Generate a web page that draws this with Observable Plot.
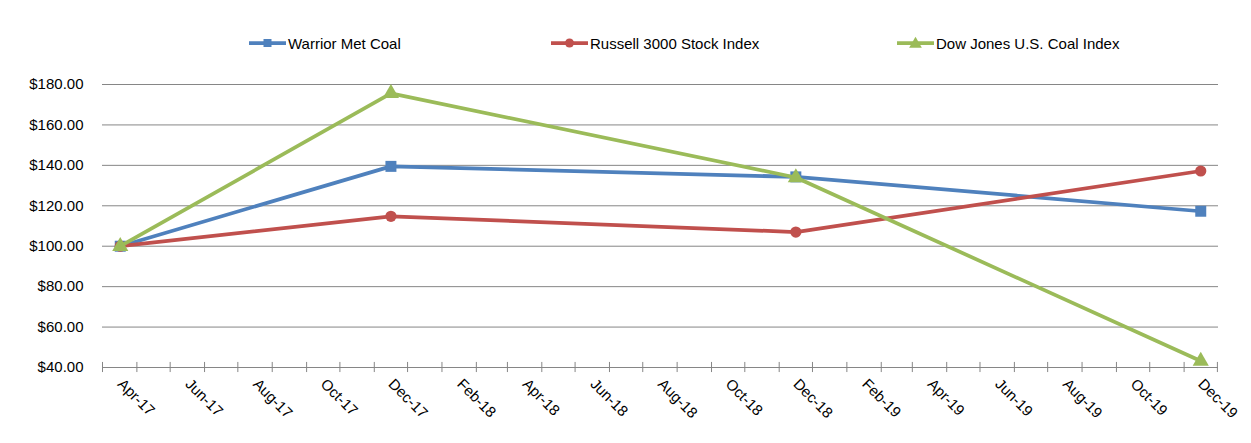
<!DOCTYPE html>
<html><head><meta charset="utf-8">
<script src="https://cdn.jsdelivr.net/npm/d3@7"></script>
<script src="https://cdn.jsdelivr.net/npm/@observablehq/plot@0.6"></script>
<style>
body{margin:0;background:#fff;font-family:"Liberation Sans",Arial,sans-serif;}
#wrap{position:relative;width:1251px;height:443px;overflow:hidden;}
#chart{position:absolute;left:0;top:0;}
.leg{position:absolute;top:34px;height:18px;display:flex;align-items:center;font-size:15px;color:#000;white-space:nowrap;}
.leg svg{display:block;margin-right:2px;}
</style></head><body>
<div id="wrap"><div id="chart"></div><div id="legend"></div></div>
<script>
// ---- data ----
const dates = ["2017-04-12", "2017-12-12", "2018-12-12", "2019-12-12"];
const seriesNames = ["Warrior Met Coal", "Russell 3000 Stock Index", "Dow Jones U.S. Coal Index"];
const warrior = [100, 139.5, 134.3, 117.3];
const russell = [100, 114.8, 107.0, 137.2];
const dowJones = [100, 175.6, 134.0, 43.2];
const yTicks = [40, 60, 80, 100, 120, 140, 160, 180];
const xTickLabels = ["Apr-17","Jun-17","Aug-17","Oct-17","Dec-17","Feb-18","Apr-18","Jun-18","Aug-18","Oct-18","Dec-18","Feb-19","Apr-19","Jun-19","Aug-19","Oct-19","Dec-19"];

// ---- styles ----
const colors = ["#4F81BD", "#C0504D", "#9BBB59"];
const symbols = ["square", "circle", "triangle"];
const radii = [6.2, 5.6, 6.0];
const gridColor = "#868686";

const parseDate = d3.utcParse("%Y-%m-%d");
const parseLabel = d3.utcParse("%b-%y");
const labelDates = xTickLabels.map(s => d3.utcDay.offset(parseLabel(s), 11));
const xStart = new Date(Date.UTC(2017, 2, 27));
const xEnd = new Date(Date.UTC(2019, 11, 28));
const monthTicks = d3.range(0, 34).map(i => d3.utcMonth.offset(xStart, i));

const values = [warrior, russell, dowJones];
const series = seriesNames.map((name, s) => dates.map((d, i) => ({date: parseDate(d), value: values[s][i], name})));

const marks = [
  Plot.ruleY(yTicks.filter(v => v > 40), {y: d => d, stroke: gridColor, strokeWidth: 1}),
  Plot.ruleY([40], {y: d => d, stroke: gridColor, strokeWidth: 1}),
  Plot.ruleX(monthTicks, {x: d => d, y1: 37.5, y2: 42.5, stroke: gridColor, strokeWidth: 1}),
  Plot.axisY({ticks: yTicks, tickFormat: d => "$" + d.toFixed(2), tickSize: 0, tickPadding: 19, fontSize: 15, label: null}),
  Plot.axisX({ticks: labelDates, tickFormat: d => xTickLabels[labelDates.findIndex(t => +t === +d)], tickRotate: 45, tickSize: 0, tickPadding: 14, fontSize: 15, label: null})
];
series.forEach((rows, s) => {
  marks.push(Plot.line(rows, {x: "date", y: "value", stroke: colors[s], strokeWidth: 3.75}));
  marks.push(Plot.dot(rows, {x: "date", y: "value", symbol: symbols[s], fill: colors[s], r: radii[s]}));
});

const chart = Plot.plot({
  width: 1251, height: 443,
  marginLeft: 102, marginRight: 33, marginTop: 84, marginBottom: 76,
  x: {type: "utc", domain: [xStart, xEnd], label: null},
  y: {domain: [40, 180], label: null},
  style: {fontFamily: '"Liberation Sans", Arial, sans-serif', fontSize: "15px", color: "#000", background: "#fff"},
  marks
});
document.getElementById("chart").appendChild(chart);

// ---- legend ----
const legendX = [249, 551, 897];
const legend = document.getElementById("legend");
seriesNames.forEach((name, s) => {
  const div = document.createElement("div");
  div.className = "leg";
  div.style.left = legendX[s] + "px";
  const sym = d3.symbol(s === 0 ? d3.symbolSquare : s === 1 ? d3.symbolCircle : d3.symbolTriangle, s === 2 ? 70 : 64)();
  div.innerHTML = `<svg width="37" height="18"><line x1="0" x2="37" y1="9" y2="9" stroke="${colors[s]}" stroke-width="3.75"/><path d="${sym}" transform="translate(18.5,${s===2?10:9})" fill="${colors[s]}"/></svg><span>${name}</span>`;
  legend.appendChild(div);
});
</script>
</body></html>
